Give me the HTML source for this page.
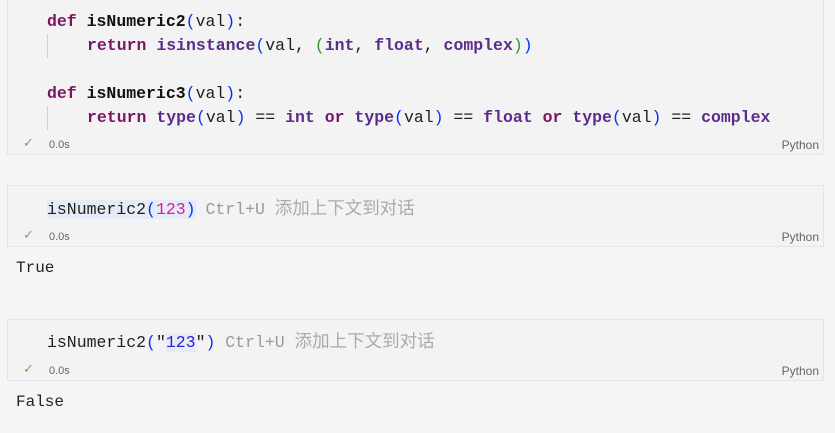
<!DOCTYPE html>
<html><head><meta charset="utf-8"><style>
body{margin:0;width:835px;height:433px;background:#f5f5f5;position:relative;overflow:hidden;font-family:"Liberation Mono",monospace}
.cell{position:absolute;left:7px;width:817px;background:#f3f3f3;border:1px solid #e4e4ef;box-sizing:border-box}
.l{position:absolute;left:47px;font-size:16.5px;white-space:pre;line-height:24px;color:#1f1f1f}
.k{color:#7a1463}.b{color:#5c2b8c;font-weight:bold}.f{font-weight:bold;color:#111}.k{font-weight:bold}
.p{color:#0431fa}.g{color:#319331}.n{color:#e0189c}.s{color:#3119d8}.h{color:#999}
.cj{font-family:"Noto Sans CJK SC",sans-serif;font-size:17.5px;color:#aaa}
.st{position:absolute;font-family:"Liberation Sans",sans-serif;font-size:11px;color:#666}
.ck{position:absolute;left:23px;color:#6aaa6a;font-size:13px;font-family:"DejaVu Sans",sans-serif;font-weight:lighter}
.py{position:absolute;right:4px;font-family:"Liberation Sans",sans-serif;font-size:12px;color:#666}
.bar{position:absolute;left:47px;width:1px;height:24px;background:#d0d0d0}
.out{position:absolute;left:16px;font-size:16px;color:#222}
</style></head><body>
<div class="cell" style="top:-1px;height:156px">
 <div class="py" style="top:138px">Python</div>
</div>
<div class="bar" style="top:34px"></div><div class="bar" style="top:106px"></div>
<div class="l" style="top:10px"><span class="k">def</span> <span class="f">isNumeric2</span><span class="p">(</span>val<span class="p">)</span>:</div>
<div class="l" style="top:34px;left:87px"><span class="k">return</span> <span class="b">isinstance</span><span class="p">(</span>val, <span class="g">(</span><span class="b">int</span>, <span class="b">float</span>, <span class="b">complex</span><span class="g">)</span><span class="p">)</span></div>
<div class="l" style="top:82px"><span class="k">def</span> <span class="f">isNumeric3</span><span class="p">(</span>val<span class="p">)</span>:</div>
<div class="l" style="top:106px;left:87px"><span class="k">return</span> <span class="b">type</span><span class="p">(</span>val<span class="p">)</span> == <span class="b">int</span> <span class="k">or</span> <span class="b">type</span><span class="p">(</span>val<span class="p">)</span> == <span class="b">float</span> <span class="k">or</span> <span class="b">type</span><span class="p">(</span>val<span class="p">)</span> == <span class="b">complex</span></div>
<div class="ck" style="top:136px">✓</div><div class="st" style="left:49px;top:139px">0.0s</div>

<div class="cell" style="top:185px;height:62px"><div class="py" style="top:44px">Python</div></div>
<div class="l" style="top:196px"><span style="background:#e6ecf5">isNumeric2<span class="p">(</span><span class="n">123</span><span class="p">)</span></span> <span class="h">Ctrl+U</span> <span class="cj">添加上下文到对话</span></div>
<div class="ck" style="top:228px">✓</div><div class="st" style="left:49px;top:231px">0.0s</div>
<div class="out" style="top:259px">True</div>

<div class="cell" style="top:319px;height:62px"><div class="py" style="top:44px">Python</div></div>
<div class="l" style="top:329px">isNumeric2<span class="p">(</span>"<span class="s" style="background:#e6ecf5">123</span>"<span class="p">)</span> <span class="h">Ctrl+U</span> <span class="cj">添加上下文到对话</span></div>
<div class="ck" style="top:362px">✓</div><div class="st" style="left:49px;top:365px">0.0s</div>
<div class="out" style="top:393px">False</div>
</body></html>
